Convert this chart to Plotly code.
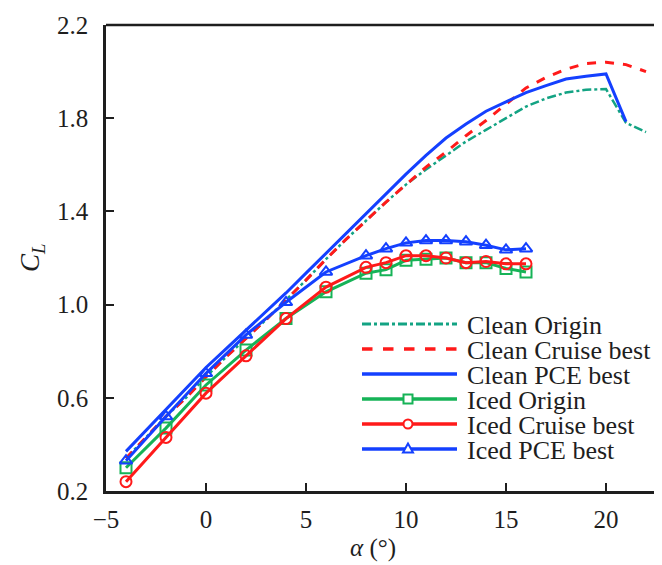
import plotly.graph_objects as go

# ---- data ----
alpha_clean_origin = [-4, -3, -2, -1, 0, 1, 2, 3, 4, 5, 6, 7, 8, 9, 10, 11, 12, 13, 14, 15, 16, 17, 18, 19, 20, 21, 22]
cl_clean_origin = [0.34, 0.43, 0.52, 0.60, 0.69, 0.775, 0.855, 0.935, 1.02, 1.105, 1.195, 1.28, 1.36, 1.44, 1.515,
                   1.58, 1.64, 1.70, 1.75, 1.80, 1.85, 1.885, 1.91, 1.922, 1.925, 1.78, 1.74]

alpha_clean_cruise = [-4, -3, -2, -1, 0, 1, 2, 3, 4, 5, 6, 7, 8, 9, 10, 11, 12, 13, 14, 15, 16, 17, 18, 19, 20, 21, 22]
cl_clean_cruise = [0.34, 0.43, 0.52, 0.60, 0.69, 0.775, 0.855, 0.935, 1.02, 1.105, 1.195, 1.28, 1.36, 1.44, 1.515,
                   1.59, 1.655, 1.725, 1.79, 1.86, 1.93, 1.975, 2.01, 2.035, 2.04, 2.03, 2.0]

alpha_clean_pce = [-4, -3, -2, -1, 0, 1, 2, 3, 4, 5, 6, 7, 8, 9, 10, 11, 12, 13, 14, 15, 16, 17, 18, 19, 20, 21]
cl_clean_pce = [0.37, 0.46, 0.55, 0.64, 0.73, 0.81, 0.89, 0.97, 1.05, 1.135, 1.22, 1.305, 1.39, 1.475, 1.56, 1.64,
                1.715, 1.775, 1.83, 1.87, 1.91, 1.94, 1.968, 1.98, 1.99, 1.785]

alpha_iced = [-4, -2, 0, 2, 4, 6, 8, 9, 10, 11, 12, 13, 14, 15, 16]
cl_iced_origin = [0.30, 0.47, 0.655, 0.805, 0.94, 1.055, 1.135, 1.15, 1.19, 1.195, 1.20, 1.18, 1.18, 1.155, 1.14]
cl_iced_cruise = [0.24, 0.43, 0.62, 0.78, 0.94, 1.075, 1.16, 1.18, 1.21, 1.21, 1.20, 1.18, 1.185, 1.175, 1.175]
cl_iced_pce = [0.33, 0.52, 0.705, 0.87, 1.01, 1.14, 1.21, 1.24, 1.265, 1.275, 1.275, 1.27, 1.255, 1.235, 1.24]

x_ticks = [-5, 0, 5, 10, 15, 20]
y_ticks = [0.2, 0.6, 1.0, 1.4, 1.8, 2.2]

series_names = ["Clean Origin", "Clean Cruise best", "Clean PCE best",
                "Iced Origin", "Iced Cruise best", "Iced PCE best"]

TEAL = "#13a383"
RED = "#ff1a1a"
BLUE = "#1440ff"
GREEN = "#16b357"
INK = "#1e1e1e"
FONT = "Liberation Serif"

# the page body has an 8px margin, so the figure is drawn 8px smaller and offset
OFF = 8
W, H = 662 - OFF, 565 - OFF
ML, MR, MT = 106 - OFF, 0, 25 - OFF
MB = H - (491 - OFF)
PW, PH = W - ML - MR, H - MT - MB


def px(xp):  # page pixel -> paper
    return (xp - OFF - ML) / PW


def py(yp):
    return (H - MB - (yp - OFF)) / PH


styles = [
    dict(color=TEAL, width=2.5, dash="dashdot", symbol=None),
    dict(color=RED, width=3, dash="dash", symbol=None),
    dict(color=BLUE, width=3, dash="solid", symbol=None),
    dict(color=GREEN, width=3, dash="solid", symbol="square-open"),
    dict(color=RED, width=3, dash="solid", symbol="circle-open"),
    dict(color=BLUE, width=3, dash="solid", symbol="triangle-up-open"),
]
xs = [alpha_clean_origin, alpha_clean_cruise, alpha_clean_pce, alpha_iced, alpha_iced, alpha_iced]
ys = [cl_clean_origin, cl_clean_cruise, cl_clean_pce, cl_iced_origin, cl_iced_cruise, cl_iced_pce]

fig = go.Figure()
for name, x, y, st in zip(series_names, xs, ys, styles):
    if st["symbol"]:
        fig.add_trace(go.Scatter(x=x, y=y, mode="lines+markers", name=name,
                                 line=dict(color=st["color"], width=st["width"]),
                                 marker=dict(symbol=st["symbol"], size=11, color=st["color"],
                                             line=dict(width=2, color=st["color"]))))
    else:
        fig.add_trace(go.Scatter(x=x, y=y, mode="lines", name=name,
                                 line=dict(color=st["color"], width=st["width"], dash=st["dash"])))

fig.update_layout(
    width=W, height=H,
    margin=dict(l=ML, r=MR, t=MT, b=MB),
    paper_bgcolor="white", plot_bgcolor="white",
    font=dict(family=FONT, size=25, color=INK),
    showlegend=False,
)
fig.update_xaxes(range=[-5, 22.8], tickvals=x_ticks, ticks="inside", ticklen=8, tickwidth=2, tickcolor=INK,
                 showline=True, linecolor=INK, linewidth=2.5, mirror=False, showgrid=False, zeroline=False,
                 tickfont=dict(family=FONT, size=25), automargin=False, ticklabelstandoff=4)
fig.update_yaxes(range=[0.2, 2.2], tickvals=y_ticks, tickformat=".1f", ticks="inside", ticklen=8, tickwidth=2,
                 tickcolor=INK, showline=True, linecolor=INK, linewidth=2.5, showgrid=False, zeroline=False,
                 tickfont=dict(family=FONT, size=25), ticklabelstandoff=10, automargin=False)
# top spine
fig.add_shape(type="line", xref="paper", yref="paper", x0=0, x1=1, y0=1, y1=1,
              line=dict(color=INK, width=2.5))

# axis titles
fig.add_annotation(text="<i>α</i> (°)", xref="paper", yref="paper", x=px(373), y=py(548),
                   showarrow=False, font=dict(family=FONT, size=25, color=INK), xanchor="center", yanchor="middle")
fig.add_annotation(text="<i>C</i><sub><i>L</i></sub>", xref="paper", yref="paper", x=px(32), y=py(258),
                   textangle=-90, showarrow=False, font=dict(family=FONT, size=27, color=INK),
                   xanchor="center", yanchor="middle")

# legend (drawn manually for the reference's tight spacing and long samples)
LX0, LX1, LTX, LMX = 362, 457, 465, 408
row_y = [324, 349, 374, 399, 424, 449]
for name, st, ry in zip(series_names, styles, row_y):
    fig.add_shape(type="line", xref="paper", yref="paper", x0=px(LX0), x1=px(LX1), y0=py(ry), y1=py(ry),
                  line=dict(color=st["color"], width=st["width"] + 0.5, dash=st["dash"]))
    s = 4.5
    if st["symbol"] == "square-open":
        fig.add_shape(type="rect", xref="paper", yref="paper", x0=px(LMX - s), x1=px(LMX + s),
                      y0=py(ry + s), y1=py(ry - s), line=dict(color=st["color"], width=2), fillcolor="white")
    elif st["symbol"] == "circle-open":
        fig.add_shape(type="circle", xref="paper", yref="paper", x0=px(LMX - s), x1=px(LMX + s),
                      y0=py(ry + s), y1=py(ry - s), line=dict(color=st["color"], width=2), fillcolor="white")
    elif st["symbol"] == "triangle-up-open":
        path = "M {},{} L {},{} L {},{} Z".format(px(LMX), py(ry - 5.5), px(LMX - 5), py(ry + 3.5),
                                                  px(LMX + 5), py(ry + 3.5))
        fig.add_shape(type="path", xref="paper", yref="paper", path=path,
                      line=dict(color=st["color"], width=2), fillcolor="white")
    fig.add_annotation(text=name, xref="paper", yref="paper", x=px(LTX), y=py(ry + 1),
                       xanchor="left", yanchor="middle", showarrow=False,
                       font=dict(family=FONT, size=26, color=INK))

fig.write_html("out.html")
